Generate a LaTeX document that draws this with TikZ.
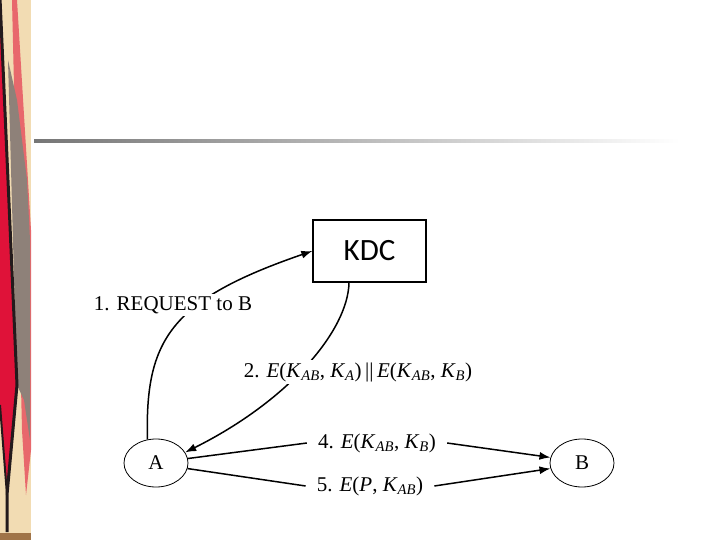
\documentclass[tikz,border=0pt]{standalone}
\usepackage{fontspec}
\setmainfont{Liberation Serif}
\newfontfamily\kdcfont{Carlito}
\usetikzlibrary{shapes.geometric,arrows.meta}
\definecolor{beige}{HTML}{F2DCB3}
\definecolor{rose}{HTML}{E8686C}
\definecolor{gris}{HTML}{8E8179}
\definecolor{rouge}{HTML}{DF1239}
\definecolor{noir}{HTML}{231A1C}
\definecolor{brun}{HTML}{A07448}
\definecolor{ligne}{HTML}{767676}
\newcommand{\Kcle}[1]{\textit{K}\textsubscript{\textit{#1}}}

\begin{document}
\begin{tikzpicture}[x=1pt,y=-1pt]
% Styles
\tikzstyle{fleche}=[->,>={Latex[length=11pt,width=8pt]},line width=1.5pt]
\tikzstyle{noeud}=[draw,ellipse,line width=0.8pt,minimum width=64pt,minimum height=48pt,inner sep=0pt,font=\fontsize{21}{24}\selectfont]
\tikzstyle{boite}=[draw,rectangle,line width=1.3pt,minimum width=113pt,minimum height=62pt,font=\kdcfont\fontsize{31}{34}\selectfont]
\tikzstyle{etiquette}=[fill=white,inner sep=2pt,font=\fontsize{21}{24}\selectfont]
\tikzstyle{etiquette1}=[etiquette,inner xsep=11pt]
\useasboundingbox (0,0) rectangle (720,540);
% Bande decorative
\fill[beige] (0,0) rectangle (31,540);
\fill[rose] (12,0) -- (17,0) -- (31,230) -- (31,450) -- (26,495) -- (22,430) -- cycle;
\fill[gris] (8,60) -- (17,100) -- (27,180) -- (30,240) -- (30,440) -- (24,400) -- (17,385) -- cycle;
\fill[rouge] (0,15) -- (17,385) -- (7,492) -- (0,405) -- cycle;
\draw[noir,line width=3pt] (0,-2) -- (17,385) -- (7,495) -- (7,532);
\draw[noir,line width=2pt] (0,405) -- (7,495);
\fill[brun] (0,533) rectangle (31,540);
% Trait sous le titre
\shade[left color=ligne,right color=white] (34,139.5) rectangle (680,142.5);
% Noeuds
\node[boite] (KDC) at (369.5,251) {KDC};
\node[noeud] (A) at (156,463) {A};
\node[noeud] (B) at (582,463) {B};
\node[etiquette1] (E4) at (377,443) {4. \textit{E}(\Kcle{AB}, \Kcle{B})};
\node[etiquette1] (E5) at (370,486) {5. \textit{E}(\textit{P}, \Kcle{AB})};
% Arcs
\draw[fleche] (A.110) .. controls (145,340) and (170,300) .. (KDC.west);
\draw[fleche] ([xshift=-20.5pt]KDC.south) .. controls (348,330) and (290,400) .. (A.20);
\draw[line width=1.5pt] (A.8) -- (E4.west);
\draw[fleche] (E4.east) -- (B.170);
\draw[line width=1.5pt] (A.-10) -- (E5.west);
\draw[fleche] (E5.east) -- (B.190);
% Etiquettes des arcs
\node[etiquette] (E1) at (173,305) {1. REQUEST to B};
\node[etiquette] (E2) at (358,372) {2. \textit{E}(\Kcle{AB}, \Kcle{A})\,||\,\textit{E}(\Kcle{AB}, \Kcle{B})};
\end{tikzpicture}
\end{document}
